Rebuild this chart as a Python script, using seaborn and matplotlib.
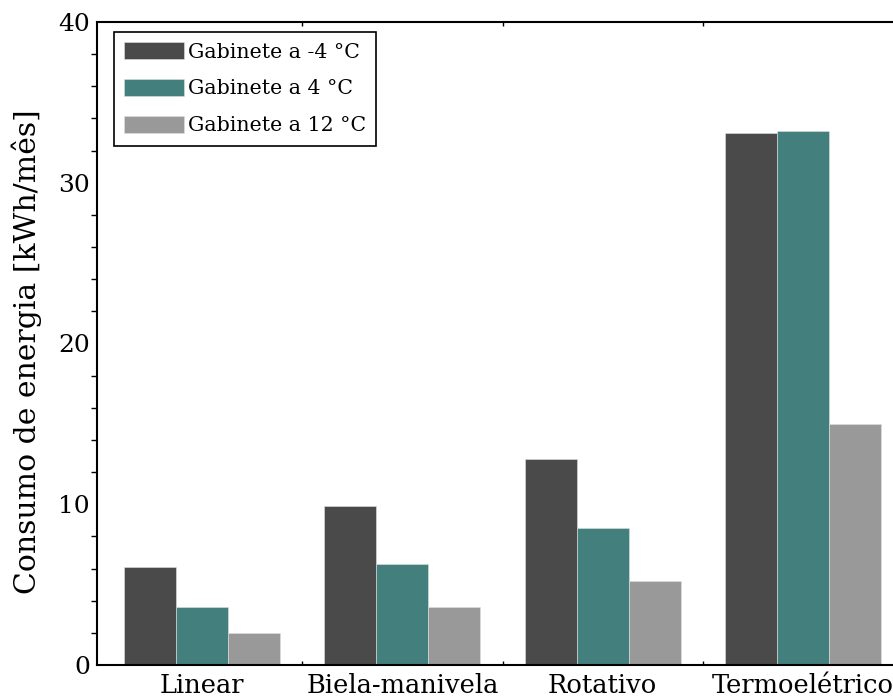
import matplotlib
matplotlib.use("Agg")
import matplotlib.pyplot as plt
import seaborn as sns
import pandas as pd
from matplotlib.ticker import MultipleLocator, FixedLocator

categories = ["Linear", "Biela-manivela", "Rotativo", "Termoelétrico"]
series = ["Gabinete a -4 °C", "Gabinete a 4 °C", "Gabinete a 12 °C"]
vals_m4 = [6.1, 9.9, 12.8, 33.1]
vals_4 = [3.6, 6.3, 8.5, 33.2]
vals_12 = [2.0, 3.6, 5.2, 15.0]
colors = ["#4a4a4a", "#437f7d", "#999999"]

rows = []
for s, vals in zip(series, [vals_m4, vals_4, vals_12]):
    for c, v in zip(categories, vals):
        rows.append({"cat": c, "serie": s, "valor": v})
df = pd.DataFrame(rows)

sns.set_theme(style="white")
plt.rcParams["font.family"] = ["DejaVu Serif"]
plt.rcParams["text.color"] = "black"
plt.rcParams["axes.labelcolor"] = "black"
plt.rcParams["xtick.color"] = "black"
plt.rcParams["ytick.color"] = "black"

fig = plt.figure(figsize=(8.93, 6.98), dpi=100)
ax = fig.add_axes([97/893, 1-665/698, (908-97)/893, (665-22)/698])

sns.barplot(data=df, x="cat", y="valor", hue="serie", order=categories,
            hue_order=series, palette=colors, width=0.78, ax=ax,
            edgecolor="#e0e0e0", linewidth=0.4, saturation=1)

ax.set_xlim(-0.525, 3.525)
ax.set_ylim(0, 40)
ax.set_xlabel("")
ax.set_ylabel("Consumo de energia [kWh/mês]", fontsize=21.5)
ax.yaxis.set_label_coords(-0.068, 0.488)

ax.yaxis.set_major_locator(MultipleLocator(10))
ax.yaxis.set_minor_locator(MultipleLocator(2))
ax.tick_params(axis="y", which="major", direction="in", length=2, width=1,
               labelsize=18, pad=5)
ax.tick_params(axis="y", which="minor", direction="out", length=4, width=1,
               left=True)
ax.xaxis.set_minor_locator(FixedLocator([0.5, 1.5, 2.5]))
ax.tick_params(axis="x", which="major", length=0, labelsize=18.5, pad=6)
ax.tick_params(axis="x", which="minor", direction="in", length=3, width=1,
               bottom=True, top=True)

for sp in ax.spines.values():
    sp.set_visible(True)
    sp.set_color("black")
    sp.set_linewidth(1.5)

leg = ax.legend(loc="upper left", bbox_to_anchor=(0.021, 0.985), fontsize=14.8,
                frameon=True, fancybox=False, edgecolor="black",
                handlelength=2.9, handleheight=0.9, handletextpad=0.2,
                labelspacing=0.84, borderpad=0.5, borderaxespad=0)
leg.get_frame().set_linewidth(1.2)
leg.get_frame().set_alpha(1)

fig.savefig("out.png", dpi=100)
